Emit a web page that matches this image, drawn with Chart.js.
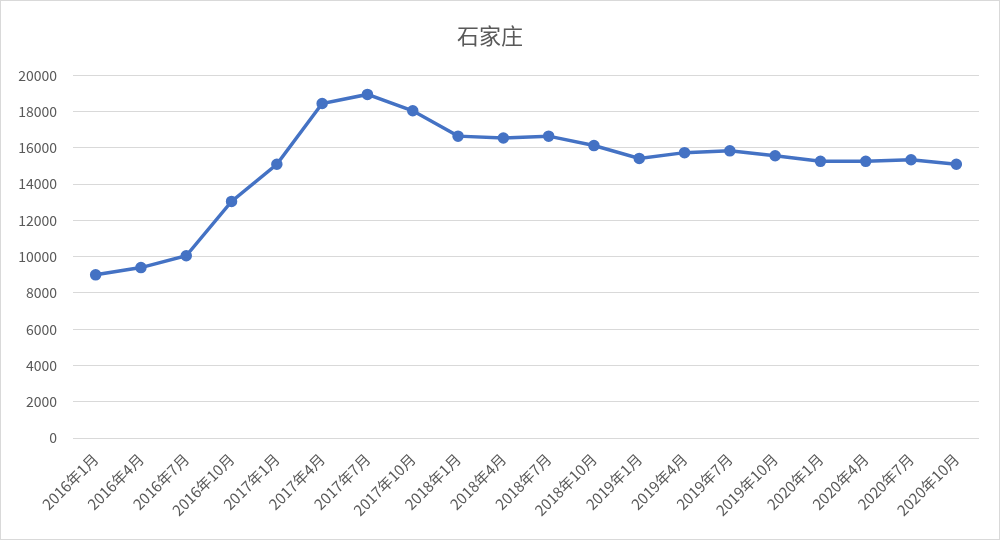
<!DOCTYPE html>
<html>
<head>
<meta charset="utf-8">
<script src="https://cdn.jsdelivr.net/npm/chart.js@4"></script>
<style>
  html, body { margin: 0; padding: 0; background: #fff; }
  #wrap { width: 1000px; height: 540px; box-sizing: border-box; border: 1px solid #d9d9d9; position: relative; }
</style>
</head>
<body>
<div id="wrap"><canvas id="c"></canvas></div>
<script>
const titleText = '石家庄';
const categories = ['2016年1月','2016年4月','2016年7月','2016年10月','2017年1月','2017年4月','2017年7月','2017年10月','2018年1月','2018年4月','2018年7月','2018年10月','2019年1月','2019年4月','2019年7月','2019年10月','2020年1月','2020年4月','2020年7月','2020年10月'];
const prices = [9000, 9400, 10050, 13050, 15100, 18450, 18950, 18050, 16650, 16550, 16650, 16130, 15420, 15740, 15840, 15570, 15260, 15260, 15350, 15100];
const yMin = 0, yMax = 20000, yStep = 2000;

const FONT = "'Noto Sans CJK SC', 'Noto Sans', sans-serif";
const TXT = '#595959';

new Chart(document.getElementById('c'), {
  type: 'line',
  data: {
    labels: categories,
    datasets: [{
      data: prices,
      borderColor: '#4472C4',
      backgroundColor: '#4472C4',
      borderWidth: 3.5,
      pointRadius: 4,
      pointBackgroundColor: '#4472C4',
      pointBorderColor: '#4472C4',
      tension: 0,
      fill: false
    }]
  },
  options: {
    responsive: true,
    maintainAspectRatio: false,
    animation: false,
    devicePixelRatio: 1,
    layout: { padding: { left: 0, right: 20, top: 0, bottom: 0 } },
    plugins: {
      legend: { display: false },
      tooltip: { enabled: false },
      title: {
        display: true,
        text: titleText,
        color: TXT,
        font: { family: FONT, size: 22, weight: 'normal' },
        padding: { top: 21, bottom: 27 }
      }
    },
    scales: {
      x: {
        offset: true,
        grid: { display: false, drawTicks: false },
        border: { display: false },
        ticks: {
          color: TXT,
          font: { family: FONT, size: 15 },
          minRotation: 45,
          maxRotation: 45,
          autoSkip: false,
          padding: 12
        },
        afterFit: (s) => { s.height = 101; }
      },
      y: {
        min: yMin,
        max: yMax,
        grid: { color: '#d9d9d9', lineWidth: 1, drawTicks: false },
        border: { display: false },
        ticks: {
          stepSize: yStep,
          color: TXT,
          font: { family: FONT, size: 14 },
          padding: 16,
          callback: (v) => String(v)
        },
        afterFit: (s) => { s.width = 72; }
      }
    }
  }
});
</script>
</body>
</html>
